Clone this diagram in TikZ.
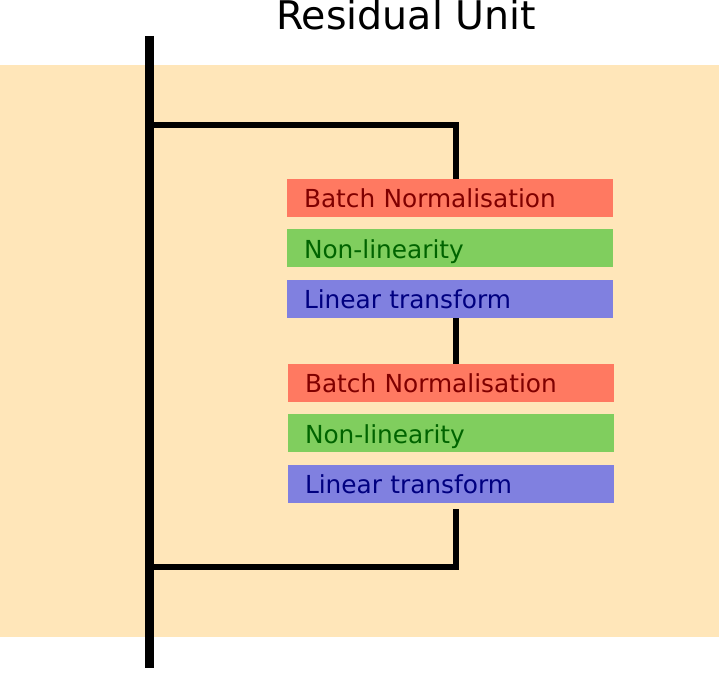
\documentclass[tikz,border=0pt]{standalone}
\usepackage{fontspec}
\setmainfont{DejaVu Sans}
\usetikzlibrary{positioning}
\definecolor{unitbg}{RGB}{255,230,185}
\definecolor{bnfill}{RGB}{255,121,97}
\definecolor{nlfill}{RGB}{128,206,94}
\definecolor{ltfill}{RGB}{128,128,224}
\definecolor{bntext}{RGB}{128,0,0}
\definecolor{nltext}{RGB}{0,100,0}
\definecolor{lttext}{RGB}{0,0,128}
\tikzset{
  layer/.style={minimum width=326pt, minimum height=38pt, inner ysep=0pt,
    inner xsep=17pt, text width=292pt, align=left,
    text height=24pt, text depth=4.6pt,
    font=\fontsize{24.8}{30}\selectfont},
  bn/.style={layer, fill=bnfill, text=bntext},
  nl/.style={layer, fill=nlfill, text=nltext},
  lt/.style={layer, fill=ltfill, text=lttext},
  wire/.style={line width=6.5pt},
}
\begin{document}
\begin{tikzpicture}[x=1pt, y=-1pt, node distance=12pt]
  \useasboundingbox (0,0) rectangle (719,674);

  % Background of the unit
  \fill[unitbg] (0,65) rectangle (719,637);
  \node[anchor=base, inner sep=0pt] (title) at (406,30)
    {\fontsize{39.5}{44}\selectfont Residual Unit};

  % First block
  \node[bn] (bnA) at (450,198) {Batch Normalisation};
  \node[nl, below=of bnA] (nlA) {Non-linearity};
  \node[lt, below=of nlA] (ltA) {Linear transform};

  % Second block
  \node[bn] (bnB) at (451,383) {Batch Normalisation};
  \node[nl, below=of bnB] (nlB) {Non-linearity};
  \node[lt, below=of nlB] (ltB) {Linear transform};

  % Main path
  \coordinate (inTop) at (149,36);
  \coordinate (outBot) at (149,668);
  \draw[line width=9pt] (inTop) -- (outBot);

  % Branch out and back in
  \coordinate (splitA) at (149,125);
  \coordinate (jA) at (456,125);
  \coordinate (jB) at (456,567);
  \coordinate (mergeB) at (149,567);
  \draw[wire] (splitA) -- (jA) -- (jA |- bnA.north);
  \draw[wire] (ltA.south -| jA) -- (bnB.north -| jA);
  \draw[wire] ([yshift=-6pt]ltB.south -| jB) -- (jB) -- (mergeB);
\end{tikzpicture}
\end{document}
